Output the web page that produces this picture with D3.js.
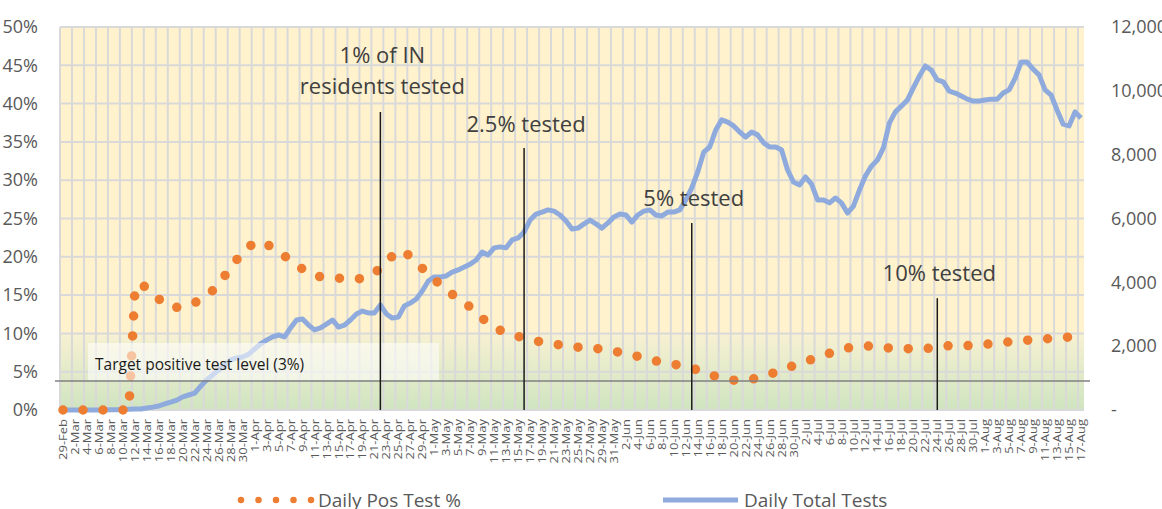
<!DOCTYPE html>
<html>
<head>
<meta charset="utf-8">
<script src="https://cdn.jsdelivr.net/npm/d3@7.9.0/dist/d3.min.js"></script>
<style>
  html, body { margin: 0; padding: 0; background: #fff; }
  svg { display: block; font-family: "Open Sans", "Noto Sans", sans-serif; }
</style>
</head>
<body>
<svg id="chart" width="1162" height="509"></svg>
<script>
// --- data ---
// one value per day, 29-Feb-2020 .. 17-Aug-2020
const startDay = new Date(2020, 1, 29);
const endDay = new Date(2020, 7, 18);

// Daily Pos Test % (percent)
const posPct = [
  0, 0, 0, 0, 0, 0, 0, 0, 0, 0, 0, 0, 15.5, 16.6, 15.8, 15.2, 14.5, 13.8, 13.4, 13.4,
  13.5, 13.7, 14.0, 14.5, 15.0, 15.6, 16.3, 17.5, 18.6, 19.6, 20.7, 21.3, 21.8, 22.0, 21.7, 21.1, 20.6, 20.1, 19.5, 18.9,
  18.4, 17.9, 17.5, 17.4, 17.3, 17.3, 17.2, 17.2, 17.1, 17.1, 17.2, 17.4, 17.8, 18.6, 19.3, 20.1, 20.8, 20.7, 20.0, 19.3,
  18.5, 17.8, 17.1, 16.3, 15.6, 15.1, 14.6, 14.1, 13.4, 12.7, 12.0, 11.3, 10.7, 10.4, 10.1, 9.8, 9.6, 9.4, 9.2, 9.0,
  8.9, 8.7, 8.6, 8.5, 8.3, 8.2, 8.2, 8.1, 8.1, 8.0, 8.0, 7.9, 7.7, 7.5, 7.4, 7.2, 7.0, 6.8, 6.6, 6.4,
  6.3, 6.2, 6.0, 5.8, 5.7, 5.5, 5.2, 4.9, 4.6, 4.4, 4.2, 4.0, 3.9, 3.9, 3.9, 4.0, 4.2, 4.5, 4.7, 4.9,
  5.2, 5.5, 5.8, 6.1, 6.3, 6.6, 6.9, 7.1, 7.4, 7.7, 7.9, 8.1, 8.2, 8.3, 8.4, 8.3, 8.2, 8.1, 8.1, 8.0,
  8.0, 8.0, 8.0, 8.0, 8.0, 8.1, 8.2, 8.3, 8.4, 8.4, 8.4, 8.4, 8.5, 8.5, 8.6, 8.6, 8.7, 8.8, 8.9, 9.0,
  9.1, 9.1, 9.2, 9.2, 9.3, 9.3, 9.4, 9.5, 9.5, 9.6, 9.7
];

// Daily Total Tests
const totalTests = [
  0, 0, 0, 0, 0, 0, 0, 0, 10, 10, 20, 20, 30, 30, 60, 90, 125, 190, 250, 310,
  410, 470, 530, 750, 940, 1100, 1250, 1410, 1570, 1630, 1660, 1750, 1910, 2070, 2190, 2290, 2350, 2290, 2570, 2820,
  2850, 2660, 2510, 2570, 2690, 2820, 2600, 2660, 2820, 3010, 3100, 3040, 3040, 3290, 3010, 2880, 2910, 3260, 3350, 3480,
  3730, 4040, 4170, 4170, 4200, 4320, 4390, 4480, 4570, 4700, 4950, 4860, 5080, 5110, 5080, 5330, 5390, 5580, 5950, 6140,
  6200, 6270, 6230, 6110, 5920, 5670, 5700, 5830, 5950, 5830, 5700, 5860, 6050, 6140, 6110, 5890, 6110, 6230, 6270, 6110,
  6080, 6200, 6200, 6270, 6580, 6960, 7460, 8080, 8240, 8770, 9090, 9020, 8900, 8710, 8550, 8710, 8620, 8370, 8240, 8240,
  8150, 7520, 7140, 7050, 7300, 7080, 6580, 6580, 6490, 6640, 6490, 6170, 6390, 6890, 7330, 7640, 7830, 8210, 8990, 9340,
  9520, 9710, 10090, 10460, 10780, 10650, 10340, 10280, 9990, 9930, 9840, 9740, 9680, 9680, 9710, 9740, 9740, 9930, 10030, 10400,
  10900, 10900, 10680, 10500, 10030, 9870, 9400, 8960, 8900, 9340, 9150
];

const leftTicks = [0, 0.05, 0.10, 0.15, 0.20, 0.25, 0.30, 0.35, 0.40, 0.45, 0.50];
const rightTicks = [0, 2000, 4000, 6000, 8000, 10000, 12000];

// milestone call-outs
const milestones = [
  { date: new Date(2020, 3, 22), text: ['1% of IN', 'residents tested'] },
  { date: new Date(2020, 4, 16), text: ['2.5% tested'] },
  { date: new Date(2020, 5, 13), text: ['5% tested'] },
  { date: new Date(2020, 6, 24), text: ['10% tested'] }
];
const targetLabel = 'Target positive test level (3%)';
const targetLevel = 0.038;   // where the hand-drawn target line sits

const seriesNames = ['Daily Pos Test %', 'Daily Total Tests'];

// --- setup ---
const days = d3.timeDay.range(startDay, endDay);
const fmtDay = d3.timeFormat('%-d-%b');
const dayIndex = (d) => d3.timeDay.count(startDay, d);

const plot = { left: 60, right: 1084, top: 27, bottom: 410 };
const svg = d3.select('#chart');

const x = d3.scaleLinear().domain([-0.5, days.length - 0.5]).range([plot.left, plot.right]);
const yL = d3.scaleLinear().domain([0, 0.5]).range([plot.bottom, plot.top]);
const yR = d3.scaleLinear().domain([0, 12000]).range([plot.bottom, plot.top]);

// background: yellow, fading to green below 10%
const defs = svg.append('defs');
const grad = defs.append('linearGradient')
  .attr('id', 'greenFade').attr('x1', 0).attr('y1', 0).attr('x2', 0).attr('y2', 1);
grad.append('stop').attr('offset', '0%').attr('stop-color', '#F7F1D2');
grad.append('stop').attr('offset', '100%').attr('stop-color', '#CFE4C0');

svg.append('rect')
  .attr('x', plot.left).attr('y', plot.top)
  .attr('width', plot.right - plot.left).attr('height', plot.bottom - plot.top)
  .attr('fill', '#FFF2CC');
svg.append('rect')
  .attr('x', plot.left).attr('y', yL(0.10))
  .attr('width', plot.right - plot.left).attr('height', yL(0) - yL(0.10))
  .attr('fill', 'url(#greenFade)');

// gridlines
const grid = svg.append('g').attr('stroke', '#D9D9D9').attr('stroke-width', 2);
grid.selectAll('line.v')
  .data(d3.range(0, days.length, 2))
  .join('line')
  .attr('class', 'v')
  .attr('x1', (i) => x(i - 0.5)).attr('x2', (i) => x(i - 0.5))
  .attr('y1', plot.top).attr('y2', plot.bottom);
grid.selectAll('line.h')
  .data(leftTicks)
  .join('line')
  .attr('class', 'h')
  .attr('x1', plot.left).attr('x2', plot.right)
  .attr('y1', (d) => yL(d)).attr('y2', (d) => yL(d));

// axes
const leftAxis = svg.append('g')
  .attr('transform', `translate(${plot.left},0)`)
  .call(d3.axisLeft(yL).tickValues(leftTicks).tickFormat(d3.format('.0%')).tickSize(0).tickPadding(22));

const rightAxis = svg.append('g')
  .attr('transform', `translate(${plot.right},0)`)
  .call(d3.axisRight(yR).tickValues(rightTicks)
    .tickFormat((d) => (d === 0 ? '-' : d3.format(',')(d))).tickSize(0).tickPadding(27));

const bottomAxis = svg.append('g')
  .attr('transform', `translate(0,${plot.bottom})`)
  .call(d3.axisBottom(x).tickValues(d3.range(0, days.length, 2))
    .tickFormat((i) => fmtDay(days[i])).tickSize(0));

[leftAxis, rightAxis].forEach((g) => {
  g.select('.domain').remove();
  g.selectAll('text').attr('font-size', 18).attr('fill', '#595959')
    .attr('font-family', '"Open Sans", sans-serif');
});
bottomAxis.select('.domain').remove();
// labels in the reference look tall and narrow
bottomAxis.selectAll('text')
  .attr('transform', 'rotate(-90) scale(1,0.78)')
  .attr('text-anchor', 'end')
  .attr('x', -9).attr('y', 0).attr('dy', '0.35em')
  .attr('font-size', 13).attr('fill', '#595959')
  .attr('font-family', '"Open Sans", sans-serif');

// series
const totalLine = d3.line().x((d, i) => x(i)).y((d) => yR(d));
const pctLine = d3.line().x((d, i) => x(i)).y((d) => yL(d / 100));

svg.append('path')
  .datum(totalTests)
  .attr('fill', 'none')
  .attr('stroke', '#8FAADC')
  .attr('stroke-width', 5)
  .attr('stroke-linejoin', 'round')
  .attr('d', totalLine);

svg.append('path')
  .datum(posPct)
  .attr('fill', 'none')
  .attr('stroke', '#ED7D31')
  .attr('stroke-width', 9.5)
  .attr('stroke-linecap', 'round')
  .attr('stroke-dasharray', '0 20')
  .attr('d', pctLine);

// target label box (semi-transparent, sits over the series)
svg.append('rect')
  .attr('x', 88).attr('y', 343).attr('width', 351).attr('height', 37)
  .attr('fill', '#FFFFFF').attr('fill-opacity', 0.55);
svg.append('text')
  .attr('x', 95).attr('y', 370)
  .attr('font-size', 15.5).attr('fill', '#1a1a1a')
  .text(targetLabel);

// target line
svg.append('line')
  .attr('x1', 55).attr('x2', 1090)
  .attr('y1', yL(targetLevel)).attr('y2', yL(targetLevel))
  .attr('stroke', '#808080').attr('stroke-width', 1.5);

// milestone lines and labels
const lineTops = [0.389, 0.342, 0.244, 0.146];
const textBase = [[0.453, 0.413], [0.363], [0.266], [0.168]];
milestones.forEach((m, k) => {
  const mx = x(dayIndex(m.date));
  svg.append('line')
    .attr('x1', mx).attr('x2', mx)
    .attr('y1', yL(lineTops[k])).attr('y2', plot.bottom)
    .attr('stroke', '#1a1a1a').attr('stroke-width', 1.5);
  m.text.forEach((t, j) => {
    svg.append('text')
      .attr('x', mx + 2).attr('y', yL(textBase[k][j]))
      .attr('text-anchor', 'middle')
      .attr('font-size', 22).attr('fill', '#404040')
      .text(t);
  });
});

// legend
const legend = svg.append('g').attr('font-size', 19).attr('fill', '#595959');
legend.append('path')
  .attr('d', 'M241,500H312')
  .attr('stroke', '#ED7D31').attr('stroke-width', 6.5)
  .attr('stroke-linecap', 'round').attr('stroke-dasharray', '0 17.5');
legend.append('text').attr('x', 318).attr('y', 507).text(seriesNames[0]);
legend.append('line')
  .attr('x1', 663).attr('x2', 738).attr('y1', 500).attr('y2', 500)
  .attr('stroke', '#8FAADC').attr('stroke-width', 5);
legend.append('text').attr('x', 744).attr('y', 507).text(seriesNames[1]);
</script>
</body>
</html>
